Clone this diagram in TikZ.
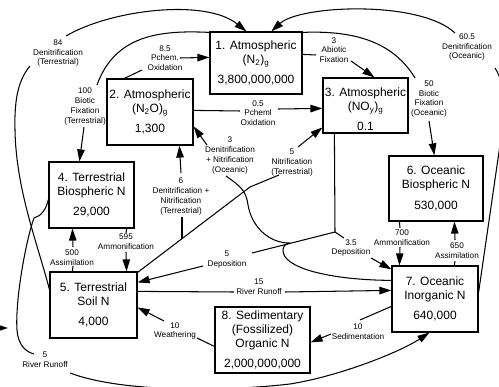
\documentclass[tikz,border=0pt]{standalone}
\usepackage{fontspec}
\setmainfont{Liberation Sans}
\usetikzlibrary{arrows.meta}
\begin{document}
\begin{tikzpicture}[x=1pt,y=-1pt,
  box/.style={draw, line width=1.2pt, inner sep=0pt, align=center, font=\fontsize{12}{14}\selectfont},
  lbl/.style={inner sep=0pt, align=center, font=\fontsize{8.2}{9.8}\selectfont},
  ln/.style={line width=1.05pt},
  ar/.style={line width=1.05pt, -{Triangle[length=12pt,width=7.5pt]}},
]
\useasboundingbox (0,0) rectangle (499,387);
% boxes
\node[box, minimum width=92pt, minimum height=62pt] (n1) at (256,63) {1. Atmospheric\\(N\textsubscript{2})\textsubscript{g}\\[6pt]3,800,000,000};
\node[box, minimum width=86pt, minimum height=66pt] (n2) at (150,112) {2. Atmospheric\\(N\textsubscript{2}O)\textsubscript{g}\\[6pt]1,300};
\node[box, minimum width=85pt, minimum height=55pt] (n3) at (365.5,105.5) {\mbox{}\\[2pt]3. Atmospheric\\(NO\textsubscript{y})\textsubscript{g}\\[6pt]0.1};
\node[box, minimum width=85pt, minimum height=66pt] (n4) at (91.5,195) {4. Terrestrial\\Biospheric N\\[6pt]29,000};
\node[box, minimum width=87pt, minimum height=66pt] (n5) at (93.5,305) {5. Terrestrial\\Soil N\\[6pt]4,000};
\node[box, minimum width=94pt, minimum height=65pt] (n6) at (436,188.5) {6. Oceanic\\Biospheric N\\[7pt]530,000};
\node[box, minimum width=86pt, minimum height=66pt] (n7) at (435,299) {7. Oceanic\\Inorganic N\\[6pt]640,000};
\node[box, minimum width=95pt, minimum height=66pt] (n8) at (262.5,340) {8. Sedimentary\\(Fossilized)\\Organic N\\[6pt]2,000,000,000};
% labels
\node[lbl] (L84) at (58,53) {84\\Denitrification\\(Terrestrial)};
\node[lbl] (L100) at (85,106.5) {100\\Biotic\\Fixation\\(Terrestrial)};
\node[lbl] (L85) at (165,58) {8.5\\Pchem.\\Oxidation};
\node[lbl] (L3a) at (334,50) {3\\Abiotic\\Fixation};
\node[lbl] (L60) at (467,47) {60.5\\Denitrification\\(Oceanic)};
\node[lbl] (L50) at (429,99) {50\\Biotic\\Fixation\\(Oceanic)};
\node[lbl] (L05) at (258,113) {0.5\\Pcheml\\Oxidation};
\node[lbl] (L3o) at (230,155.5) {3\\Denitrification\\+ Nitrification\\(Oceanic)};
\node[lbl] (L5n) at (292,162.5) {5\\Nitrification\\(Terrestrial)};
\node[lbl] (L6) at (181,196.5) {6\\Denitrification +\\Nitrification\\(Terrestrial)};
\node[lbl] (L5d) at (227,259.5) {5\\Deposition};
\node[lbl] (L35) at (351,248) {3.5\\Deposition};
\node[lbl] (L15) at (259,286.5) {15\\River Runoff};
\node[lbl] (Lw) at (175,331) {10\\Weathering};
\node[lbl] (Ls) at (358,331.5) {10\\Sedimentation};
\node[lbl] (L700) at (402,237.5) {700\\Ammonification};
\node[lbl] (L650) at (457,250.5) {650\\Assimilation};
\node[lbl] (L500) at (72,257.5) {500\\Assimilation};
\node[lbl] (L595) at (126,242) {595\\Ammonification};
\node[lbl] (Lrr) at (45,360) {5\\River Runoff};
% free ends
\coordinate (a84s) at (30,66); \coordinate (a84e) at (66,36);
\coordinate (a100s) at (97,85); \coordinate (a100e) at (84,127);
\coordinate (a85s) at (142,70); \coordinate (a85e) at (180,58);
\coordinate (a3as) at (316,55); \coordinate (a3ae) at (351,61);
\coordinate (a60s) at (455,33); \coordinate (a60r) at (495,68);
\coordinate (a50s) at (415,78); \coordinate (a50e) at (429,121);
\coordinate (a05s) at (240,111); \coordinate (a05e) at (278,109);
\coordinate (a3os) at (226,176); \coordinate (a3oe) at (207,145);
\coordinate (jn) at (250,187);
\coordinate (a5ns) at (279,175); \coordinate (a5ne) at (298,147);
\coordinate (j6) at (182,239);
\coordinate (a6s) at (182,217); \coordinate (a6e) at (181,173);
\coordinate (jd) at (335,232);
\coordinate (a5ds) at (252,253); \coordinate (a5de) at (203,266);
\coordinate (a35s) at (344,238); \coordinate (a35e) at (371,258);
\coordinate (a15s) at (234,292); \coordinate (a15e) at (285,292);
\coordinate (aws) at (197,338); \coordinate (awe) at (164,321);
\coordinate (ass) at (360,320); \coordinate (ase) at (331,334);
\coordinate (a700s) at (400,228); \coordinate (a700e) at (400,247);
\coordinate (a650s) at (455,261); \coordinate (a650e) at (455,240);
\coordinate (a500s) at (73,266); \coordinate (a500e) at (73,247);
\coordinate (a595s) at (126,233); \coordinate (a595e) at (126,252);
\coordinate (arrs) at (34,354); \coordinate (arre) at (70,373);
\coordinate (s1) at (-6,328); \coordinate (s2) at (8,328);
% connectors
\draw[ln] ([yshift=-18pt]n5.north west) .. controls (38,245) and (16,190) .. (15,130) .. controls (14,95) and (20,78) .. (a84s);
\draw[ar] (a84e) .. controls (110,10) and (205,-2) .. ([xshift=37pt]n1.north west);
\draw[ar] (a60s) .. controls (420,0) and (300,5) .. ([xshift=62pt]n1.north west);
\draw[ln] ([yshift=-27pt]n7.north east) -- (500,145) .. controls (506,110) and (506,85) .. (a60r);
\draw[ln] ([yshift=-1pt]n1.north west) .. controls (160,30) and (115,35) .. (a100s);
\draw[ar] (a100e) -- ([xshift=31pt]n4.north west);
\draw[ln] ([xshift=18pt]n2.north west) -- (a85s);
\draw[ar] (a85e) -- ([yshift=-26pt]n1.north west);
\draw[ln] ([yshift=-23pt]n1.north east) -- (a3as);
\draw[ar] (a3ae) -- ([xshift=52pt]n3.north west);
\draw[ln] ([yshift=-1pt]n1.north east) .. controls (360,30) and (395,45) .. (a50s);
\draw[ar] (a50e) -- ([xshift=46pt]n6.north west);
\draw[ln] ([yshift=-32pt]n2.north east) -- (a05s);
\draw[ar] (a05e) -- ([yshift=-31pt]n3.north west);
\draw[ar] (a3oe) -- ([yshift=-48pt]n2.north east);
\draw[ln] ([yshift=-15pt]n7.north west) .. controls (330,280) and (282,268) .. (283,250) .. controls (283,246) and (286,244) .. (289,243) .. controls (270,243) and (252,228) .. (248,205) .. controls (246,190) and (240,186) .. (a3os);
\draw[ln] ([yshift=-1pt]n5.north east) -- (jn) -- (a5ns);
\draw[ar] (a5ne) -- ([yshift=-50pt]n3.north west);
\draw[ln] (j6) -- (a6s);
\draw[ar] (a6e) -- ([xshift=73pt]n2.south west);
\draw[ln] ([xshift=12pt]n3.south west) -- (jd) -- (a5ds);
\draw[ln] (jd) -- (a35s);
\draw[ar] (a5de) -- ([yshift=-11pt]n5.north east);
\draw[ar] (a35e) -- ([yshift=-4pt]n7.north west);
\draw[ln] ([yshift=-20pt]n5.north east) -- (a15s);
\draw[ar] (a15e) -- ([yshift=-25pt]n7.north west);
\draw[ln] ([yshift=-40pt]n8.north west) -- (aws);
\draw[ar] (awe) -- ([yshift=-36pt]n5.north east);
\draw[ln] ([yshift=-41pt]n7.north west) -- (ass);
\draw[ar] (ase) -- ([yshift=-36pt]n8.north east);
\draw[ln] ([xshift=11pt]n6.south west) -- (a700s);
\draw[ar] (a700e) -- ([xshift=8pt]n7.north west);
\draw[ln] ([xshift=63pt]n7.north west) -- (a650s);
\draw[ar] (a650e) -- ([xshift=66pt]n6.south west);
\draw[ln] ([xshift=23pt]n5.north west) -- (a500s);
\draw[ar] (a500e) -- ([xshift=24pt]n4.south west);
\draw[ln] ([xshift=-8pt]n4.south east) -- (a595s);
\draw[ar] (a595e) -- ([xshift=-11pt]n5.north east);
\draw[ln] ([yshift=-38pt]n4.north west) .. controls (46,210) and (41,216) .. (34,218) .. controls (26,240) and (15,300) .. (17,330) .. controls (18,345) and (26,352) .. (arrs);
\draw[ar] (arre) .. controls (120,392) and (220,392) .. (290,384) .. controls (340,376) and (400,352) .. ([xshift=38pt]n7.south west);
\draw[ar] (s1) -- (s2);
\end{tikzpicture}
\end{document}
